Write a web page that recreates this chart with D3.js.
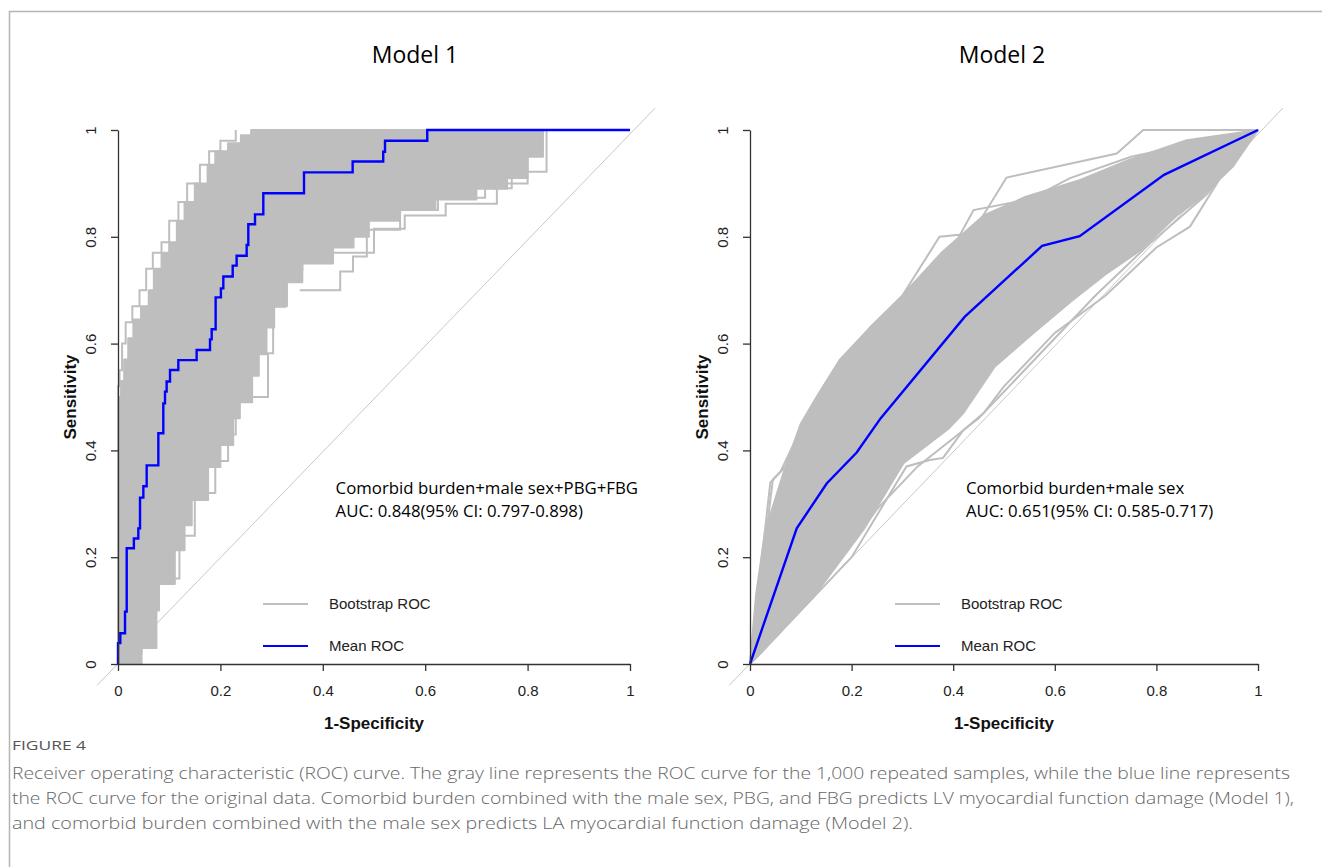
<!DOCTYPE html>
<html>
<head>
<meta charset="utf-8">
<script src="https://cdn.jsdelivr.net/npm/d3@7"></script>
<style>
  body { margin: 0; background: #fff; }
  svg { display: block; }
</style>
</head>
<body>
<div id="chart"></div>
<script>
// ---- data ----
var ticks = [0, 0.2, 0.4, 0.6, 0.8, 1];
var tickLabels = ["0", "0.2", "0.4", "0.6", "0.8", "1"];

// Model 1 mean ROC (step curve: x of each rise, top of the rise)
var m1MeanX = [0, 0, 0.0045, 0.0137, 0.017, 0.031, 0.0397, 0.043, 0.0495, 0.056, 0.0788, 0.0885, 0.0918, 0.095, 0.1016, 0.1178, 0.1536, 0.1797, 0.183, 0.1907, 0.201, 0.2057, 0.224, 0.2317, 0.2513, 0.2545, 0.2676, 0.2838, 0.3633, 0.4583, 0.518, 0.5215, 0.604, 1];
var m1MeanY = [0, 0.039, 0.0575, 0.098, 0.2167, 0.235, 0.254, 0.3115, 0.333, 0.372, 0.432, 0.488, 0.510, 0.529, 0.5506, 0.569, 0.588, 0.608, 0.627, 0.6866, 0.7035, 0.7256, 0.746, 0.7646, 0.7846, 0.8234, 0.842, 0.8815, 0.9207, 0.941, 0.9593, 0.98, 1.0, 1.0];

// Model 1 bootstrap band, upper-left and lower-right edges (step)
var m1UpX = [0, 0, 0.006, 0.012, 0.02, 0.03, 0.045, 0.06, 0.07, 0.085, 0.1, 0.115, 0.13, 0.15, 0.175, 0.19, 0.215, 0.24, 0.26, 0.83];
var m1UpY = [0, 0.5, 0.53, 0.57, 0.61, 0.645, 0.67, 0.70, 0.74, 0.77, 0.79, 0.83, 0.865, 0.9, 0.935, 0.96, 0.975, 0.99, 1.0, 1.0];
var m1LoX = [0, 0.046, 0.075, 0.08, 0.111, 0.13, 0.144, 0.176, 0.2, 0.225, 0.238, 0.262, 0.275, 0.29, 0.305, 0.33, 0.36, 0.42, 0.46, 0.49, 0.55, 0.62, 0.7, 0.76, 0.8, 0.83];
var m1LoY = [0, 0.03, 0.1, 0.15, 0.213, 0.26, 0.307, 0.369, 0.41, 0.46, 0.49, 0.54, 0.58, 0.63, 0.67, 0.715, 0.75, 0.78, 0.80, 0.83, 0.85, 0.87, 0.89, 0.91, 0.95, 1.0];

// Model 1 single bootstrap curves standing out at the edges
var m1OutA_X = [0.355, 0.434, 0.459, 0.486, 0.551, 0.625, 0.717, 0.769, 0.837, 0.837];
var m1OutA_Y = [0.70, 0.735, 0.763, 0.813, 0.85, 0.873, 0.891, 0.922, 0.944, 1.0];
var m1OutB_X = [0.238, 0.293, 0.303, 0.326, 0.36, 0.42, 0.5, 0.56, 0.64, 0.74, 0.8];
var m1OutB_Y = [0.5, 0.582, 0.669, 0.738, 0.757, 0.77, 0.815, 0.84, 0.862, 0.9, 0.96];
var m1OutC_X = [0, 0, 0.003, 0.008, 0.015, 0.028, 0.042, 0.055, 0.068, 0.085, 0.1, 0.118, 0.135, 0.16, 0.178, 0.2, 0.23];
var m1OutC_Y = [0, 0.52, 0.55, 0.6, 0.64, 0.67, 0.70, 0.74, 0.77, 0.79, 0.83, 0.865, 0.9, 0.935, 0.96, 0.98, 1.0];
var m1OutD_X = [0, 0.04, 0.046, 0.072, 0.08, 0.12, 0.15, 0.19, 0.215, 0.23];
var m1OutD_Y = [0, 0.02, 0.06, 0.11, 0.16, 0.24, 0.32, 0.38, 0.43, 0.48];

// Model 2 mean ROC (polyline)
var m2MeanX = [0, 0.092, 0.151, 0.21, 0.257, 0.4225, 0.575, 0.649, 0.815, 1];
var m2MeanY = [0, 0.254, 0.338, 0.396, 0.46, 0.65, 0.783, 0.801, 0.916, 1];

// Model 2 bootstrap band edges
var m2UpX = [0, 0.012, 0.03, 0.05, 0.07, 0.1, 0.131, 0.177, 0.236, 0.3, 0.377, 0.46, 0.543, 0.649, 0.746, 0.86, 1];
var m2UpY = [0, 0.13, 0.25, 0.31, 0.37, 0.45, 0.5, 0.57, 0.63, 0.69, 0.77, 0.84, 0.875, 0.906, 0.944, 0.981, 1];
var m2LoX = [0, 0.033, 0.125, 0.223, 0.302, 0.39, 0.42, 0.482, 0.558, 0.633, 0.7, 0.769, 0.84, 0.882, 0.95, 1];
var m2LoY = [0, 0.032, 0.126, 0.251, 0.376, 0.44, 0.47, 0.557, 0.62, 0.68, 0.73, 0.775, 0.84, 0.869, 0.931, 1];

// Model 2 single bootstrap curves standing out
var m2OutA_X = [0, 0.04, 0.07, 0.1, 0.128, 0.249, 0.373, 0.437, 0.505, 0.722, 0.774, 1];
var m2OutA_Y = [0, 0.34, 0.37, 0.43, 0.48, 0.613, 0.80, 0.806, 0.911, 0.956, 1, 1];
var m2OutB_X = [0, 0.045, 0.06, 0.09, 0.13, 0.2, 0.3, 0.4, 0.44, 0.55, 0.63, 0.75, 1];
var m2OutB_Y = [0, 0.345, 0.36, 0.42, 0.47, 0.56, 0.67, 0.78, 0.85, 0.87, 0.91, 0.95, 1];
var m2OutC_X = [0, 0.1, 0.2, 0.308, 0.354, 0.38, 0.42, 0.46, 0.5, 0.6, 0.7, 0.8, 0.866, 0.927, 1];
var m2OutC_Y = [0, 0.1, 0.2, 0.37, 0.382, 0.386, 0.438, 0.47, 0.52, 0.62, 0.69, 0.78, 0.819, 0.912, 1];
var m2OutD_X = [0, 0.15, 0.25, 0.33, 0.45, 0.55, 0.68, 0.79, 0.9, 1];
var m2OutD_Y = [0, 0.16, 0.29, 0.37, 0.46, 0.56, 0.69, 0.79, 0.88, 1];

var captionLines = [
  "Receiver operating characteristic (ROC) curve. The gray line represents the ROC curve for the 1,000 repeated samples, while the blue line represents",
  "the ROC curve for the original data. Comorbid burden combined with the male sex, PBG, and FBG predicts LV myocardial function damage (Model 1),",
  "and comorbid burden combined with the male sex predicts LA myocardial function damage (Model 2)."
];

// ---- drawing ----
var w = 1322, h = 867;
var svg = d3.select("#chart").append("svg").attr("width", w).attr("height", h);

// frame of the figure
svg.append("path")
  .attr("d", "M1322,11.5 L9.5,11.5 L9.5,867")
  .attr("fill", "none").attr("stroke", "#b4b4b4").attr("stroke-width", 1.5);

function zip(xs, ys) { return xs.map(function(x, i) { return [x, ys[i]]; }); }
// expand step-after points to a vertex list (horizontal, then up)
function steps(pts) {
  var out = [pts[0]];
  for (var i = 1; i < pts.length; i++) {
    out.push([pts[i][0], pts[i - 1][1]]);
    out.push(pts[i]);
  }
  return out;
}

var panels = [
  { title: "Model 1", cx: 415, x0: 118, x1: 630, step: true,
    mean: zip(m1MeanX, m1MeanY), up: zip(m1UpX, m1UpY), lo: zip(m1LoX, m1LoY),
    outs: [zip(m1OutA_X, m1OutA_Y), zip(m1OutB_X, m1OutB_Y), zip(m1OutC_X, m1OutC_Y), zip(m1OutD_X, m1OutD_Y)],
    note: ["Comorbid burden+male sex+PBG+FBG", "AUC: 0.848(95% CI: 0.797-0.898)"] },
  { title: "Model 2", cx: 1002, x0: 750, x1: 1258, step: false,
    mean: zip(m2MeanX, m2MeanY), up: zip(m2UpX, m2UpY), lo: zip(m2LoX, m2LoY),
    outs: [zip(m2OutA_X, m2OutA_Y), zip(m2OutB_X, m2OutB_Y), zip(m2OutC_X, m2OutC_Y), zip(m2OutD_X, m2OutD_Y)],
    note: ["Comorbid burden+male sex", "AUC: 0.651(95% CI: 0.585-0.717)"] }
];

var gray = "#bebebe";

panels.forEach(function(p) {
  var x = d3.scaleLinear().domain([0, 1]).range([p.x0, p.x1]);
  var y = d3.scaleLinear().domain([0, 1]).range([664, 130]);
  var g = svg.append("g");
  var line = d3.line().x(function(d) { return x(d[0]); }).y(function(d) { return y(d[1]); });
  var shape = p.step ? steps : function(a) { return a; };

  // diagonal reference, clipped to the plot region
  g.append("line")
    .attr("x1", x(-0.041)).attr("y1", y(-0.04))
    .attr("x2", x(1.049)).attr("y2", y(1.041))
    .attr("stroke", "#c8c8c8").attr("stroke-width", 1);

  // bootstrap band
  var band = shape(p.up).concat(shape(p.lo).reverse());
  g.append("path")
    .attr("d", line.curve(d3.curveLinearClosed)(band))
    .attr("fill", gray).attr("stroke", gray).attr("stroke-width", 2)
    .attr("stroke-linejoin", "round");
  line.curve(d3.curveLinear);

  p.outs.forEach(function(o) {
    g.append("path")
      .attr("d", line(shape(o)))
      .attr("fill", "none").attr("stroke", gray).attr("stroke-width", 2);
  });

  // mean ROC
  g.append("path")
    .attr("d", line(shape(p.mean)))
    .attr("fill", "none").attr("stroke", "#0000ff").attr("stroke-width", 2.4);

  // axes, R style
  var xAxis = g.append("g").attr("transform", "translate(0,664)")
    .call(d3.axisBottom(x).tickValues(ticks).tickFormat(function(d, i) { return tickLabels[i]; })
      .tickSize(7).tickSizeOuter(0).tickPadding(14));
  var yAxis = g.append("g").attr("transform", "translate(" + p.x0 + ",0)")
    .call(d3.axisLeft(y).tickValues(ticks).tickFormat(function(d, i) { return tickLabels[i]; })
      .tickSize(7).tickSizeOuter(0));
  [xAxis, yAxis].forEach(function(a) {
    a.select(".domain").attr("stroke", "#333").attr("stroke-width", 1.3);
    a.selectAll(".tick line").attr("stroke", "#333").attr("stroke-width", 1.3);
    a.selectAll("text").attr("fill", "#222").style("font-family", "Liberation Sans, Arial, sans-serif").style("font-size", "15px");
  });
  yAxis.selectAll(".tick text")
    .attr("x", null).attr("dy", null)
    .attr("text-anchor", "middle")
    .attr("transform", "translate(-27,0) rotate(-90)")
    .attr("dy", "0.35em");

  g.append("text")
    .attr("x", (p.x0 + p.x1) / 2).attr("y", 729)
    .attr("text-anchor", "middle")
    .style("font-family", "Liberation Sans, Arial, sans-serif").style("font-size", "17px").style("font-weight", "bold")
    .attr("fill", "#111")
    .text("1-Specificity");
  g.append("text")
    .attr("transform", "translate(" + (p.x0 - 42) + ",397) rotate(-90)")
    .attr("text-anchor", "middle")
    .style("font-family", "Liberation Sans, Arial, sans-serif").style("font-size", "17px").style("font-weight", "bold")
    .attr("fill", "#111")
    .text("Sensitivity");

  // title
  g.append("text")
    .attr("x", p.cx).attr("y", 63)
    .attr("text-anchor", "middle")
    .style("font-family", "Open Sans, sans-serif").style("font-size", "23px")
    .attr("fill", "#000")
    .text(p.title);

  // AUC note
  g.selectAll(".note").data(p.note).enter().append("text")
    .attr("x", x(0.425)).attr("y", function(d, i) { return 494 + i * 23; })
    .style("font-family", "Open Sans, sans-serif").style("font-size", "16.8px")
    .attr("fill", "#000")
    .text(function(d) { return d; });

  // legend
  var leg = [{ label: "Bootstrap ROC", color: gray, yy: 604 }, { label: "Mean ROC", color: "#0000ff", yy: 646 }];
  leg.forEach(function(l) {
    g.append("line")
      .attr("x1", p.x0 + 145).attr("x2", p.x0 + 190)
      .attr("y1", l.yy).attr("y2", l.yy)
      .attr("stroke", l.color).attr("stroke-width", 2);
    g.append("text")
      .attr("x", p.x0 + 211).attr("y", l.yy + 5)
      .style("font-family", "Liberation Sans, Arial, sans-serif").style("font-size", "15px")
      .attr("fill", "#222")
      .text(l.label);
  });
});

// caption
svg.append("text")
  .attr("x", 12).attr("y", 750)
  .style("font-family", "Open Sans, sans-serif").style("font-size", "13px").style("font-weight", "400")
  .attr("fill", "#555")
  .attr("textLength", 74).attr("lengthAdjust", "spacingAndGlyphs")
  .text("FIGURE 4");
svg.selectAll(".cap").data(captionLines).enter().append("text")
  .attr("x", 12).attr("y", function(d, i) { return 779 + i * 25; })
  .style("font-family", "Open Sans, sans-serif").style("font-size", "17px").style("font-weight", "300")
  .attr("fill", "#666")
  .attr("textLength", function(d, i) { return [1278, 1282, 901][i]; })
  .attr("lengthAdjust", "spacingAndGlyphs")
  .text(function(d) { return d; });
</script>
</body>
</html>
